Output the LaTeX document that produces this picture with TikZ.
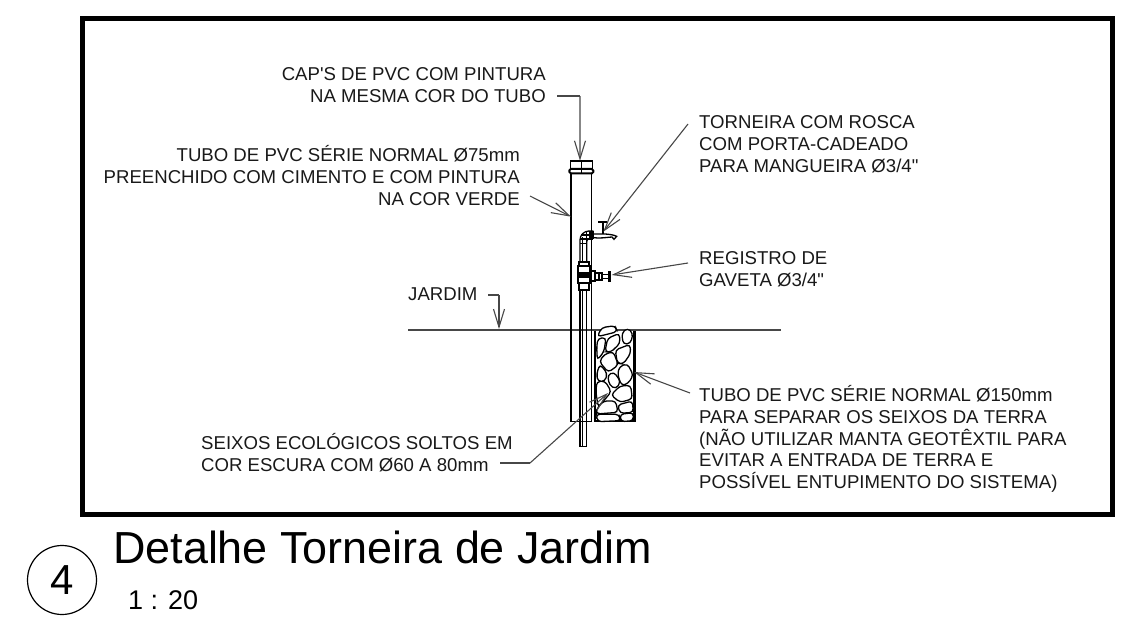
\documentclass[tikz,border=0pt]{standalone}
\usepackage{fontspec}
\setmainfont{Liberation Sans}[Ligatures=TeXOff]
\usetikzlibrary{arrows.meta}
\tikzset{
 x=1pt,y=-1pt,
 note/.style={font=\fontsize{18.6}{21.7}\selectfont,inner sep=0pt,text=black!90},
 leader/.style={draw=black!72,line width=1.1pt,-{Straight Barb[length=18pt,width=11pt,line width=1.1pt]}},
 plain/.style={draw=black!72,line width=1.1pt},
 line/.style={draw=black,line width=1.3pt},
 fat/.style={draw=black,line width=2pt},
 stone/.style={draw=black,line width=1.3pt,fill=white,rounded corners=3.5pt},
}
\begin{document}
\begin{tikzpicture}
\useasboundingbox (0,0) rectangle (1144,629);
\fill[white] (0,0) rectangle (1144,629);
\node[draw=black,line width=5pt,outer sep=0pt,minimum width=1030pt,minimum height=496pt,inner sep=0pt,anchor=north west] (frame) at (82,18) {};
% texts
\node[note,align=right,anchor=north east] (cap) at (546,67.5) {CAP'S DE PVC COM PINTURA\\NA MESMA COR DO TUBO};
\node[note,align=right,anchor=north east] (t75) at (520,145.5) {TUBO DE PVC SÉRIE NORMAL Ø75mm\\PREENCHIDO COM CIMENTO E COM PINTURA\\NA COR VERDE};
\node[note,align=left,anchor=north west] (torn) at (699,115.5) {TORNEIRA COM ROSCA\\COM PORTA-CADEADO\\PARA MANGUEIRA Ø3/4"};
\node[note,align=left,anchor=north west] (reg) at (699,251.5) {REGISTRO DE\\GAVETA Ø3/4"};
\node[note,anchor=north west] (jar) at (408,287.5) {JARDIM};
\node[note,align=left,anchor=north west] (t150) at (699,385.5) {TUBO DE PVC SÉRIE NORMAL Ø150mm\\PARA SEPARAR OS SEIXOS DA TERRA\\(NÃO UTILIZAR MANTA GEOTÊXTIL PARA\\EVITAR A ENTRADA DE TERRA E\\POSSÍVEL ENTUPIMENTO DO SISTEMA)};
\node[note,align=left,anchor=north west] (sei) at (201,433.5) {SEIXOS ECOLÓGICOS SOLTOS EM\\COR ESCURA COM Ø60 A 80mm};
\node[font=\fontsize{44.9}{50}\selectfont,inner sep=0pt,anchor=base west] (title) at (113,563) {Detalhe Torneira de Jardim};
\node[font=\fontsize{27}{30}\selectfont,inner sep=0pt,anchor=base west] (scale) at (128,609) {1 : 20};
\node[draw=black,line width=1.2pt,circle,minimum size=69pt,inner sep=0pt,font=\fontsize{42}{46}\selectfont] (num) at (62,580) {4};
% ground
\coordinate (gl) at (408,330); \coordinate (gr) at (781,330);
\draw[draw=black!72,line width=1.3pt] (gl) -- (gr);
% stones
\begin{scope}[shift={(540,310)},x=0.3333pt,y=-0.3333pt]
\draw[fat,line width=2.6pt] (165,62) -- (165,333) -- (283,333) -- (283,62);
\foreach \p in {
 {(172,80)(185,53)(225,47)(232,65)(205,72)},
 {(174,85)(198,83)(192,125)(172,150)(170,110)},
 {(203,85)(238,70)(240,100)(212,127)(195,125)},
 {(245,70)(262,54)(279,70)(272,100)(250,103)},
 {(226,120)(270,103)(272,130)(250,162)(232,160)},
 {(193,133)(220,125)(235,165)(205,187)(178,155)},
 {(238,170)(262,161)(280,195)(265,220)(245,227)(233,195)},
 {(203,195)(222,186)(242,215)(228,237)(208,225)},
 {(170,215)(195,213)(214,245)(175,292)(168,250)},
 {(170,190)(180,163)(202,190)(195,214)(173,214)},
 {(213,255)(240,228)(272,226)(277,267)(240,277)},
 {(168,300)(190,273)(227,273)(234,307)(170,312)},
 {(233,285)(277,273)(280,307)(240,310)},
 {(168,313)(237,313)(242,332)(173,335)},
 {(240,313)(280,308)(280,332)(243,335)}}
 {\draw[stone] plot coordinates \p -- cycle;}
% lower pipe
\draw[line] (93,-10) -- (93,335) -- (155,335) -- (155,-10);
\draw[line] (120,-10) -- (120,410) -- (140,410) -- (140,-10);
\draw[line] (127,-10) -- (127,410);
\end{scope}
% upper
\begin{scope}[shift={(540,140)},x=0.3333pt,y=-0.3333pt]
\draw[line] (93,100) -- (93,520); \draw[line] (155,100) -- (155,520);
\draw[line] (92,88) -- (92,63) -- (157,63) -- (157,88);
\draw[fat,rounded corners=1.5pt,fill=white] (88,87) rectangle (160,100);
\draw[line] (124,63) -- (124,100);
% elbow
\draw[line] (120,365) -- (120,300) arc[start angle=180,end angle=270,radius=27] -- (160,273);
\draw[line] (140,365) -- (140,305) arc[start angle=180,end angle=270,radius=10] -- (160,295);
\draw[line] (127,365) -- (127,290);
\draw[line] (120,297) -- (160,297);
\draw[line] (140,275) -- (140,305);
\draw[line] (150,273) -- (150,297);
\draw[line] (123,285) -- (160,285);
\draw[line] (120,310) -- (140,310);
\draw[fat] (160,272) -- (160,298);
% tap
\draw[fat] (175,245) -- (200,245);
\draw[fat] (188,245) -- (188,282);
\draw[line] (160,282) -- (195,282) .. controls (210,283) and (222,285) .. (230,289) -- (222,298) -- (216,291) .. controls (200,292) and (180,296) .. (160,293);
% valve
\draw[fat,fill=white] (118,365) rectangle (146,378);
\draw[fat,fill=white] (115,378) rectangle (149,428);
\draw[fat,fill=white] (118,428) rectangle (146,450);
\fill (115,395) rectangle (149,415);
\draw[line] (127,450) -- (127,520); \draw[line] (120,450) -- (120,520); \draw[line] (140,450) -- (140,520);
\draw[fat,fill=white] (152,393) rectangle (165,424);
\draw[fat,fill=white] (165,398) rectangle (187,420);
\draw[line] (177,398) -- (177,420);
\draw[line] (187,403) -- (207,403); \draw[line] (187,415) -- (207,415);
\fill (205,392) rectangle (212,425);
\coordinate (capT) at (120,62);
\coordinate (tubeT) at (93,230);
\coordinate (tapT) at (190,275);
\coordinate (regT) at (215,405);
\end{scope}
\coordinate (c1) at (580,96);
\coordinate (c2) at (557,96);
\draw[plain] (c2) -- (c1);
\draw[leader] (c1) -- (capT);
\coordinate (c3) at (530,196);
\draw[leader] (c3) -- (tubeT);
\coordinate (c4) at (688,124);
\draw[leader] (c4) -- (tapT);
\coordinate (c5) at (688,263);
\draw[leader] (c5) -- (regT);
\coordinate (c6) at (488,295);
\coordinate (c7) at (499,295);
\coordinate (c8) at (499,329);
\draw[plain] (c6) -- (c7);
\draw[leader] (c7) -- (c8);
\coordinate (c9) at (690,393);
\coordinate (c10) at (634,372);
\draw[leader] (c9) -- (c10);
\coordinate (c11) at (500,463);
\coordinate (c12) at (530,463);
\coordinate (c13) at (608,393);
\draw[plain] (c11) -- (c12);
\draw[leader] (c12) -- (c13);
\end{tikzpicture}
\end{document}
